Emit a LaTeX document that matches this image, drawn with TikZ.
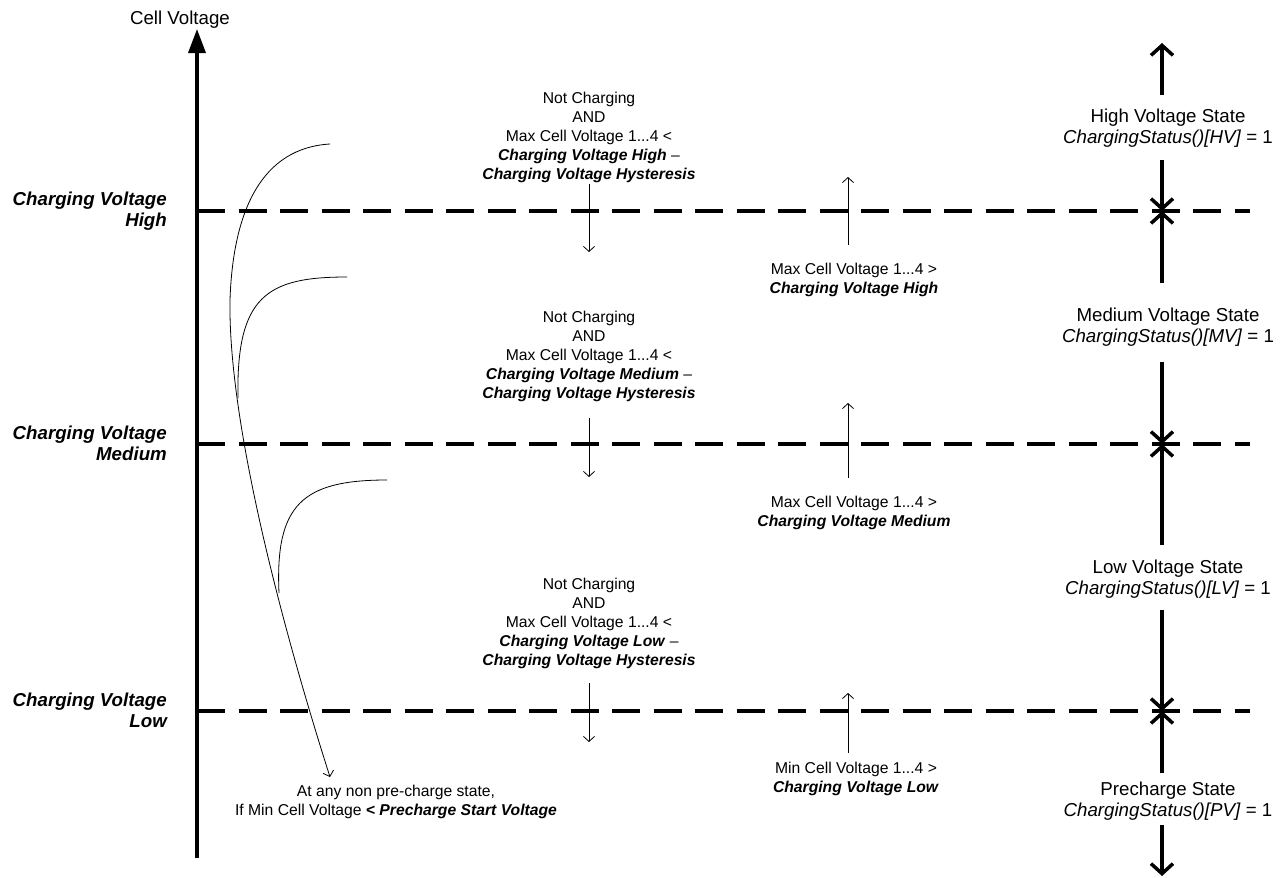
\documentclass[tikz,border=0pt]{standalone}
\usepackage{fontspec}
\setmainfont{Liberation Sans}
\usetikzlibrary{arrows.meta}

\newcommand{\bi}[1]{\textbf{\textit{#1}}}

\tikzset{
  small text/.style={font=\fontsize{15.7}{19}\selectfont, align=center, inner sep=0pt},
  big text/.style={font=\fontsize{18.7}{21.5}\selectfont, align=center, inner sep=0pt},
  level label/.style={font=\fontsize{18.7}{21}\selectfont\bfseries\itshape, align=right, anchor=east, inner sep=0pt},
  level line/.style={line width=3.5pt, dash pattern=on 28pt off 13.5pt},
  state line/.style={line width=3.5pt, -{Straight Barb[length=10pt,width=22pt]}},
  thin arrow/.style={line width=0.8pt, -{Straight Barb[length=5pt,width=11pt]}},
  trend/.style={line width=0.8pt}
}

\begin{document}
\begin{tikzpicture}[x=1pt,y=-1pt]
  \useasboundingbox (0,0) rectangle (1286,878);

  % axis
  \node[big text] (cv) at (180,20) {Cell Voltage};
  \coordinate (axbot) at (197,858);
  \coordinate (axtop) at (197,29);
  \draw[line width=3.5pt,-{Triangle[length=24pt,width=17pt]}] (axbot) -- (axtop);

  % levels
  \draw[level line] (197,211) -- (1250,211);
  \draw[level line] (197,444) -- (1250,444);
  \draw[level line] (197,711) -- (1250,711);
  \node[level label] (cvh) at (167,211) {Charging Voltage\\High};
  \node[level label] (cvm) at (167,443) {Charging Voltage\\Medium};
  \node[level label] (cvl) at (167,710) {Charging Voltage\\Low};

  % going down
  \node[small text] (dnH) at (589,137) {Not Charging\\AND\\Max Cell Voltage 1...4 <\\\bi{Charging Voltage High} --\\\bi{Charging Voltage Hysteresis}};
  \node[small text] (dnM) at (589,356) {Not Charging\\AND\\Max Cell Voltage 1...4 <\\\bi{Charging Voltage Medium} --\\\bi{Charging Voltage Hysteresis}};
  \node[small text] (dnL) at (589,623) {Not Charging\\AND\\Max Cell Voltage 1...4 <\\\bi{Charging Voltage Low} --\\\bi{Charging Voltage Hysteresis}};
  \coordinate (dnH1) at (589,184); \coordinate (dnH2) at (589,252);
  \coordinate (dnM1) at (589,418); \coordinate (dnM2) at (589,477);
  \coordinate (dnL1) at (589,683); \coordinate (dnL2) at (589,742);
  \draw[thin arrow] (dnH1) -- (dnH2);
  \draw[thin arrow] (dnM1) -- (dnM2);
  \draw[thin arrow] (dnL1) -- (dnL2);

  % going up
  \node[small text] (upH) at (854,280) {Max Cell Voltage 1...4 >\\\bi{Charging Voltage High}};
  \node[small text] (upM) at (854,513) {Max Cell Voltage 1...4 >\\\bi{Charging Voltage Medium}};
  \node[small text] (upL) at (856,779) {Min Cell Voltage 1...4 >\\\bi{Charging Voltage Low}};
  \coordinate (upH1) at (848,245); \coordinate (upH2) at (848,177);
  \coordinate (upM1) at (848,478); \coordinate (upM2) at (848,403);
  \coordinate (upL1) at (848,753); \coordinate (upL2) at (848,693);
  \draw[thin arrow] (upH1) -- (upH2);
  \draw[thin arrow] (upM1) -- (upM2);
  \draw[thin arrow] (upL1) -- (upL2);

  % precharge from anywhere
  \node[small text] (pre) at (396,802) {At any non pre-charge state,\\If Min Cell Voltage \bi{< Precharge Start Voltage}};
  \coordinate (pretip) at (330,777);
  \draw[trend] (330,144) .. controls (262,148) and (233,210) .. (230,300);
  \draw[thin arrow] (230,300) .. controls (228,420) and (280,620) .. (pretip);
  \draw[trend] (347,277) .. controls (267,277) and (236,296) .. (238,398);
  \draw[trend] (387,480) .. controls (302,480) and (275,505) .. (279,593);

  % states
  \node[big text] (hv) at (1168,128) {High Voltage State\\\textit{ChargingStatus()[HV]} = 1};
  \node[big text] (mv) at (1168,327) {Medium Voltage State\\\textit{ChargingStatus()[MV]} = 1};
  \node[big text] (lv) at (1168,579) {Low Voltage State\\\textit{ChargingStatus()[LV]} = 1};
  \node[big text] (pv) at (1168,801) {Precharge State\\\textit{ChargingStatus()[PV]} = 1};
  \coordinate (xh) at (1162,211);
  \coordinate (xm) at (1162,444);
  \coordinate (xl) at (1162,711);
  \draw[state line] (1162,95) -- (1162,43);
  \draw[state line] (1162,160) -- (xh);
  \draw[state line] (1162,283) -- (xh);
  \draw[state line] (1162,362) -- (xm);
  \draw[state line] (1162,545) -- (xm);
  \draw[state line] (1162,610) -- (xl);
  \draw[state line] (1162,773) -- (xl);
  \draw[state line] (1162,825) -- (1162,876);
\end{tikzpicture}
\end{document}
